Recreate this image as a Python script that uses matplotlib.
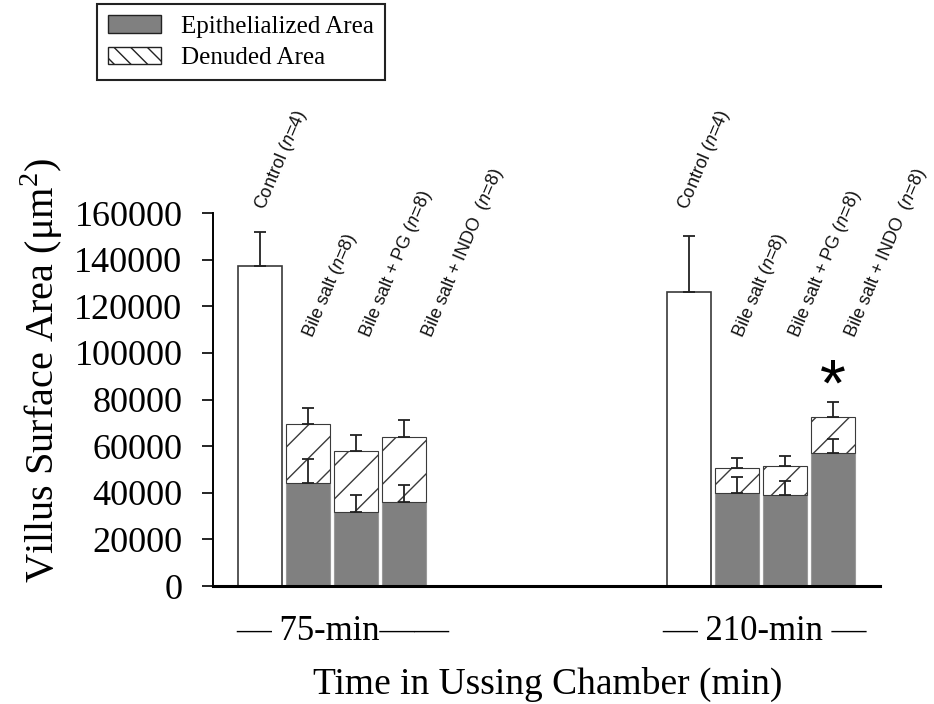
import matplotlib
matplotlib.use('Agg')
import matplotlib.pyplot as plt
import numpy as np
from matplotlib.patches import Patch

plt.rcParams['font.family'] = ['Liberation Serif', 'DejaVu Serif']
plt.rcParams['mathtext.fontset'] = 'custom'
plt.rcParams['mathtext.rm'] = 'Liberation Serif'
plt.rcParams['mathtext.it'] = 'Liberation Sans:italic'
plt.rcParams['hatch.linewidth'] = 1.0

# data
groups = ['75-min', '210-min']
treatments = ['Control', 'Bile salt', 'Bile salt + PG', 'Bile salt + INDO']
n_per = [4, 8, 8, 8]

# control bars (total area)
control_mean = [137300, 126000]
control_err = [152000, 150000]          # top of error bar

# bile salt groups: epithelialized + denuded (total)
epi_mean = [[44000, 31900, 36200], [39800, 38900, 56900]]
epi_err = [[54600, 39200, 43300], [46900, 45000, 63200]]
total_mean = [[69400, 57900, 64000], [50500, 51300, 72400]]
total_err = [[76400, 64600, 71300], [54800, 55800, 78900]]

signif = [[False, False, False], [False, False, True]]

# layout
group_start = [0.0, 8.95]
width = 0.915
label_dx = [[0.1, 0.1, 0.28, 0.57], [-0.04, 0.1, 0.27, 0.45]]
label_y = [161000, 106000]

gray = '#808080'
edge = '#3a3a3a'

fig = plt.figure(figsize=(9.34, 7.04), dpi=100)
ax = fig.add_axes([0.228, 0.1676, 0.714, 0.5298])

for g in range(2):
    x0 = group_start[g]
    # control bar
    ax.bar(x0, control_mean[g], width, color='white', edgecolor=edge, linewidth=1.2, zorder=2)
    ax.errorbar(x0, control_mean[g], yerr=[[0], [control_err[g] - control_mean[g]]],
                fmt='none', ecolor='#222222', elinewidth=1.3, capsize=4, capthick=1.3, zorder=3)
    for i in range(3):
        x = x0 + 1 + i
        ax.bar(x, epi_mean[g][i], width, color=gray, edgecolor='#9a9a9a', linewidth=0.8, zorder=2)
        ax.bar(x, total_mean[g][i] - epi_mean[g][i], width, bottom=epi_mean[g][i],
               color='white', edgecolor=edge, hatch='/', linewidth=0.8, zorder=2)
        ax.errorbar(x, total_mean[g][i], yerr=[[0], [total_err[g][i] - total_mean[g][i]]],
                    fmt='none', ecolor='#222222', elinewidth=1.3, capsize=4, capthick=1.3, zorder=3)
        ax.errorbar(x, epi_mean[g][i], yerr=[[0], [epi_err[g][i] - epi_mean[g][i]]],
                    fmt='none', ecolor='#222222', elinewidth=1.3, capsize=4, capthick=1.3, zorder=3)
        if signif[g][i]:
            ax.text(x, total_err[g][i] + 6000, '*', fontsize=48, family='Liberation Sans',
                    ha='center', va='center')
    # rotated treatment labels
    for j in range(4):
        sep = '  ' if j == 3 else ' '
        lab = treatments[j] + sep + r'($\it{n}$=%d)' % n_per[j]
        ly = label_y[0] if j == 0 else label_y[1]
        ax.text(x0 + j + label_dx[g][j], ly, lab, rotation=67, rotation_mode='anchor',
                ha='left', va='baseline', fontsize=13, family='Liberation Sans',
                color='#111111', clip_on=False)

ax.set_ylim(0, 160000)
ax.set_xlim(-0.98, 12.92)
ax.set_yticks(np.arange(0, 160001, 20000))
ax.set_xticks([])
ax.tick_params(axis='y', labelsize=26, length=8, width=1.2, pad=14)
for s in ['top', 'right']:
    ax.spines[s].set_visible(False)
ax.spines['left'].set_linewidth(1.4)
ax.spines['bottom'].set_linewidth(2.2)

# group labels under axis
ax.text(1.73, -0.123, '\u2014 ' + groups[0] + '\u2014\u2014', transform=ax.get_xaxis_transform(),
        fontsize=25, ha='center', va='center')
ax.text(10.52, -0.123, '\u2014 ' + groups[1] + ' \u2014', transform=ax.get_xaxis_transform(),
        fontsize=25, ha='center', va='center')

fig.text(548 / 934, 1 - 684 / 704, 'Time in Ussing Chamber (min)', fontsize=27,
         ha='center', va='center')
fig.text(42 / 934, 1 - 370 / 704, r'Villus Surface Area (μm$^{2}$)', fontsize=29,
         rotation=90, ha='center', va='center')

handles = [Patch(facecolor=gray, edgecolor='#222222', linewidth=1.0),
           Patch(facecolor='white', edgecolor='#222222', hatch='\\\\', linewidth=1.0)]
leg = fig.legend(handles, ['Epithelialized Area', 'Denuded Area'], loc='upper left',
                 bbox_to_anchor=(0.104, 0.994), borderaxespad=0, fontsize=18,
                 fancybox=False, handlelength=2.1, handleheight=0.7, handletextpad=0.8,
                 borderpad=0.45, labelspacing=0.35, edgecolor='#222222', framealpha=1)
leg.get_frame().set_linewidth(1.5)

fig.savefig('out.png', dpi=100)
